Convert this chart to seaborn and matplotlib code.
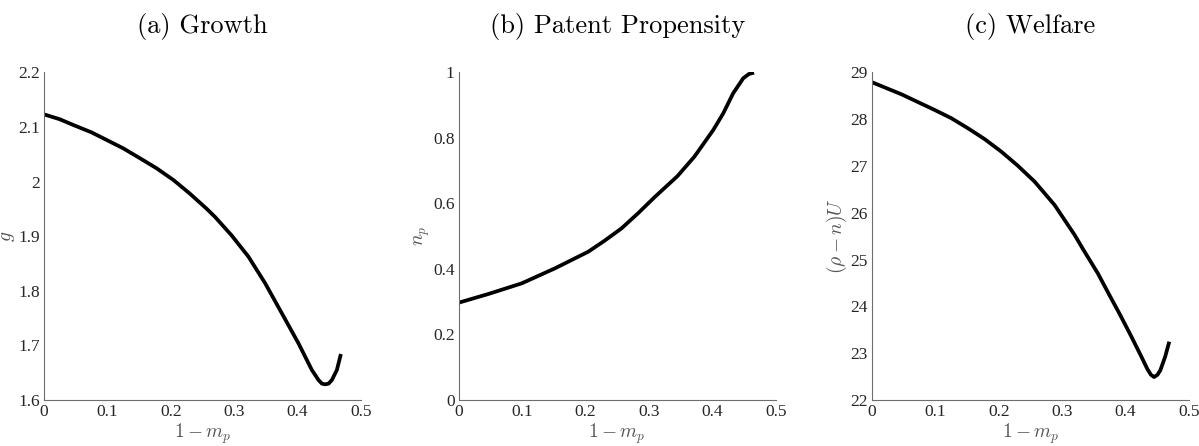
import numpy as np
import pandas as pd
import matplotlib
matplotlib.use("Agg")
import matplotlib.pyplot as plt
import seaborn as sns
from matplotlib.ticker import FuncFormatter

# ---- data ----
x_growth = [0.0, 0.025, 0.0463, 0.075, 0.099, 0.125, 0.1516, 0.178, 0.2042, 0.23, 0.2568, 0.270,
            0.2963, 0.3226, 0.349, 0.3753, 0.4015, 0.4226, 0.4331, 0.4385, 0.4436, 0.449, 0.4542,
            0.4621, 0.4684]
g_growth = [2.123, 2.114, 2.1035, 2.090, 2.076, 2.0608, 2.0425, 2.024, 2.0028, 1.978, 1.950, 1.935,
            1.901, 1.8624, 1.8136, 1.7587, 1.7038, 1.655, 1.6366, 1.630, 1.6287, 1.630, 1.6366,
            1.655, 1.6842]

x_patent = [0.0, 0.0467, 0.0994, 0.152, 0.2044, 0.23, 0.257, 0.283, 0.3096, 0.345, 0.372,
            0.4016, 0.4174, 0.433, 0.449, 0.458, 0.466]
n_patent = [0.297, 0.3235, 0.356, 0.402, 0.4526, 0.486, 0.524, 0.570, 0.620, 0.683, 0.743,
            0.824, 0.875, 0.936, 0.982, 0.995, 0.999]

x_welfare = [0.0, 0.0463, 0.0989, 0.125, 0.1514, 0.178, 0.204, 0.23, 0.2566, 0.288, 0.3197, 0.333,
             0.3565, 0.375, 0.391, 0.409, 0.425, 0.4345, 0.440, 0.445, 0.4505, 0.455, 0.4625, 0.469]
u_welfare = [28.787, 28.531, 28.195, 28.02, 27.804, 27.57, 27.305, 27.005, 26.664, 26.166, 25.525, 25.22,
             24.70, 24.23, 23.83, 23.36, 22.925, 22.66, 22.54, 22.49, 22.54, 22.64, 22.925, 23.246]

titles = ["(a) Growth", "(b) Patent Propensity", "(c) Welfare"]
ylabels = [r"$g$", r"$n_p$", r"$(\rho-n)U$"]
xlabel = r"$1-m_p$"
x_ticks = [0, 0.1, 0.2, 0.3, 0.4, 0.5]
y_ticks = [[1.6, 1.7, 1.8, 1.9, 2.0, 2.1, 2.2],
           [0, 0.2, 0.4, 0.6, 0.8, 1.0],
           [22, 23, 24, 25, 26, 27, 28, 29]]

series = [(x_growth, g_growth), (x_patent, n_patent), (x_welfare, u_welfare)]

sns.set_style("white")
plt.rcParams["mathtext.fontset"] = "cm"
plt.rcParams["font.family"] = ["Liberation Serif", "DejaVu Serif"]

fig = plt.figure(figsize=(11.99, 4.46), dpi=100)
lefts = [0.0367, 0.3826, 0.7273]
axes = [fig.add_axes([l, 0.1031, 0.2643, 0.7348]) for l in lefts]

fmt = FuncFormatter(lambda v, p: ("%g" % round(v, 6)))
spine_col = "#6e6e6e"
for i, ax in enumerate(axes):
    xs, ys = series[i]
    df = pd.DataFrame({"x": xs, "y": ys})
    sns.lineplot(data=df, x="x", y="y", ax=ax, color="black", linewidth=2.7,
                 sort=False, estimator=None)
    for ln in ax.get_lines():
        ln.set_solid_joinstyle("round")
        ln.set_solid_capstyle("butt")
    ax.set_xlim(0, 0.5)
    ax.set_ylim(y_ticks[i][0], y_ticks[i][-1])
    ax.set_xticks(x_ticks)
    ax.set_yticks(y_ticks[i])
    ax.xaxis.set_major_formatter(fmt)
    ax.yaxis.set_major_formatter(fmt)
    for s in ["top", "right"]:
        ax.spines[s].set_visible(False)
    for s in ["left", "bottom"]:
        ax.spines[s].set_color(spine_col)
        ax.spines[s].set_linewidth(0.8)
    ax.tick_params(direction="in", length=3, width=0.6, color=spine_col,
                   labelsize=12.5, labelcolor="#262626", pad=3)
    for lab in ax.get_xticklabels() + ax.get_yticklabels():
        lab.set_family("Liberation Serif")
    ax.set_xlabel(xlabel, fontsize=14, color="#555555", labelpad=1)
    ax.set_ylabel(ylabels[i], fontsize=14, color="#555555", labelpad=1)
    ax.set_title(titles[i], fontsize=19, family="cmr10", pad=28, color="black")

fig.savefig("out.png", dpi=100)
